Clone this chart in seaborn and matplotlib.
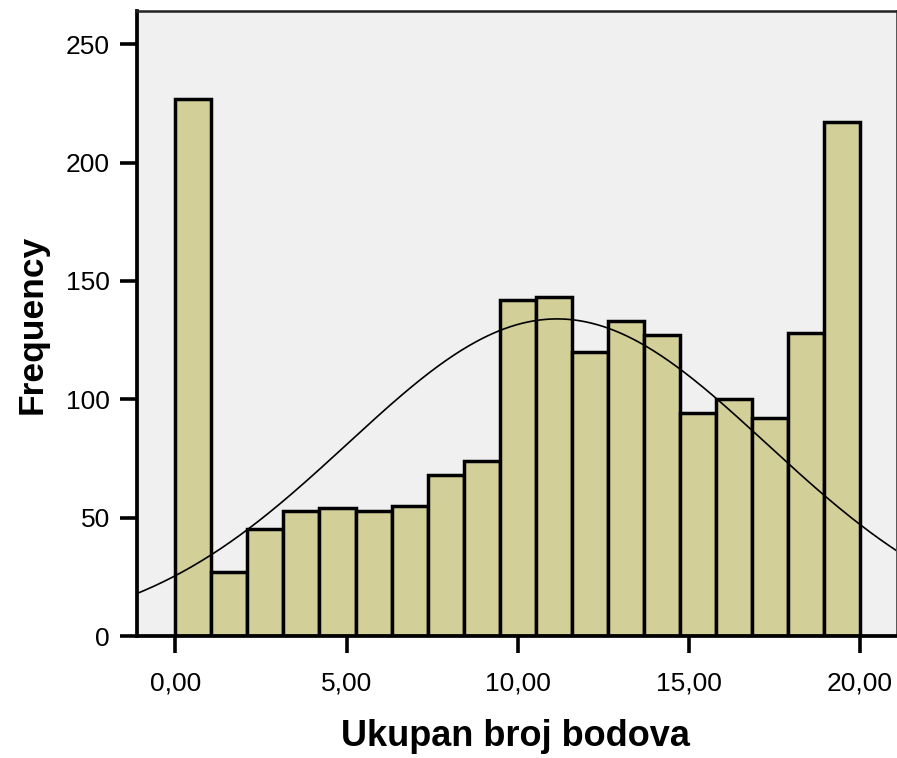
import numpy as np
import pandas as pd
import matplotlib
matplotlib.use("Agg")
import matplotlib.pyplot as plt
import seaborn as sns

# ---- data ----
bin_edges = list(np.linspace(0, 20, 20))    # 19 equal bins from 0 to 20
counts = [227, 27, 45, 53, 54, 53, 55, 68, 74, 142,
          143, 120, 133, 127, 94, 100, 92, 128, 217]
curve_mean = 11.15
curve_sd = 6.12
x_ticks = [0, 5, 10, 15, 20]
x_tick_labels = ["0,00", "5,00", "10,00", "15,00", "20,00"]
y_ticks = [0, 50, 100, 150, 200, 250]
x_label = "Ukupan broj bodova"
y_label = "Frequency"

bar_color = "#D3CF98"
bg_color = "#F0F0F0"

plt.rcParams['font.family'] = ['Liberation Sans', 'DejaVu Sans']

fig = plt.figure(figsize=(8.97, 7.58), dpi=100)
ax = fig.add_axes([137/897, 1-636/758, 760/897, 625/758])
ax.set_facecolor(bg_color)

edges = np.array(bin_edges)
centers = (edges[:-1] + edges[1:]) / 2
df = pd.DataFrame({"score": centers, "count": counts})
sns.histplot(data=df, x="score", weights="count", bins=bin_edges, ax=ax,
             color=bar_color, alpha=1, edgecolor="black", linewidth=2.5)

# normal curve scaled to the histogram
bw = edges[1] - edges[0]
n_total = sum(counts)
xs = np.linspace(-1.2, 21.2, 400)
ys = n_total * bw / (curve_sd * np.sqrt(2*np.pi)) * np.exp(-0.5*((xs-curve_mean)/curve_sd)**2)
sns.lineplot(x=xs, y=ys, ax=ax, color="black", linewidth=1.2)

ax.set_xlim(-1.12, 21.08)
ax.set_ylim(0, 264)
ax.set_xticks(x_ticks)
ax.set_xticklabels(x_tick_labels)
ax.set_yticks(y_ticks)
ax.tick_params(axis='both', direction='out', length=12.5, width=2.6,
               labelsize=19, colors='black')
ax.tick_params(axis='x', pad=13)
ax.tick_params(axis='y', pad=7)

for side in ['left', 'bottom']:
    ax.spines[side].set_linewidth(2.7)
    ax.spines[side].set_color('black')
ax.spines['top'].set_linewidth(1.8)
ax.spines['top'].set_color('#222222')
ax.spines['right'].set_linewidth(1.4)
ax.spines['right'].set_color('#555555')

ax.set_xlabel(x_label, fontsize=26, fontweight='bold')
ax.set_ylabel(y_label, fontsize=25.5, fontweight='bold')
ax.xaxis.set_label_coords((515-137)/760, (636-719)/625)
ax.yaxis.set_label_coords((49-137)/760, (636-324)/625)

fig.savefig("out.png", dpi=100, facecolor="white")
